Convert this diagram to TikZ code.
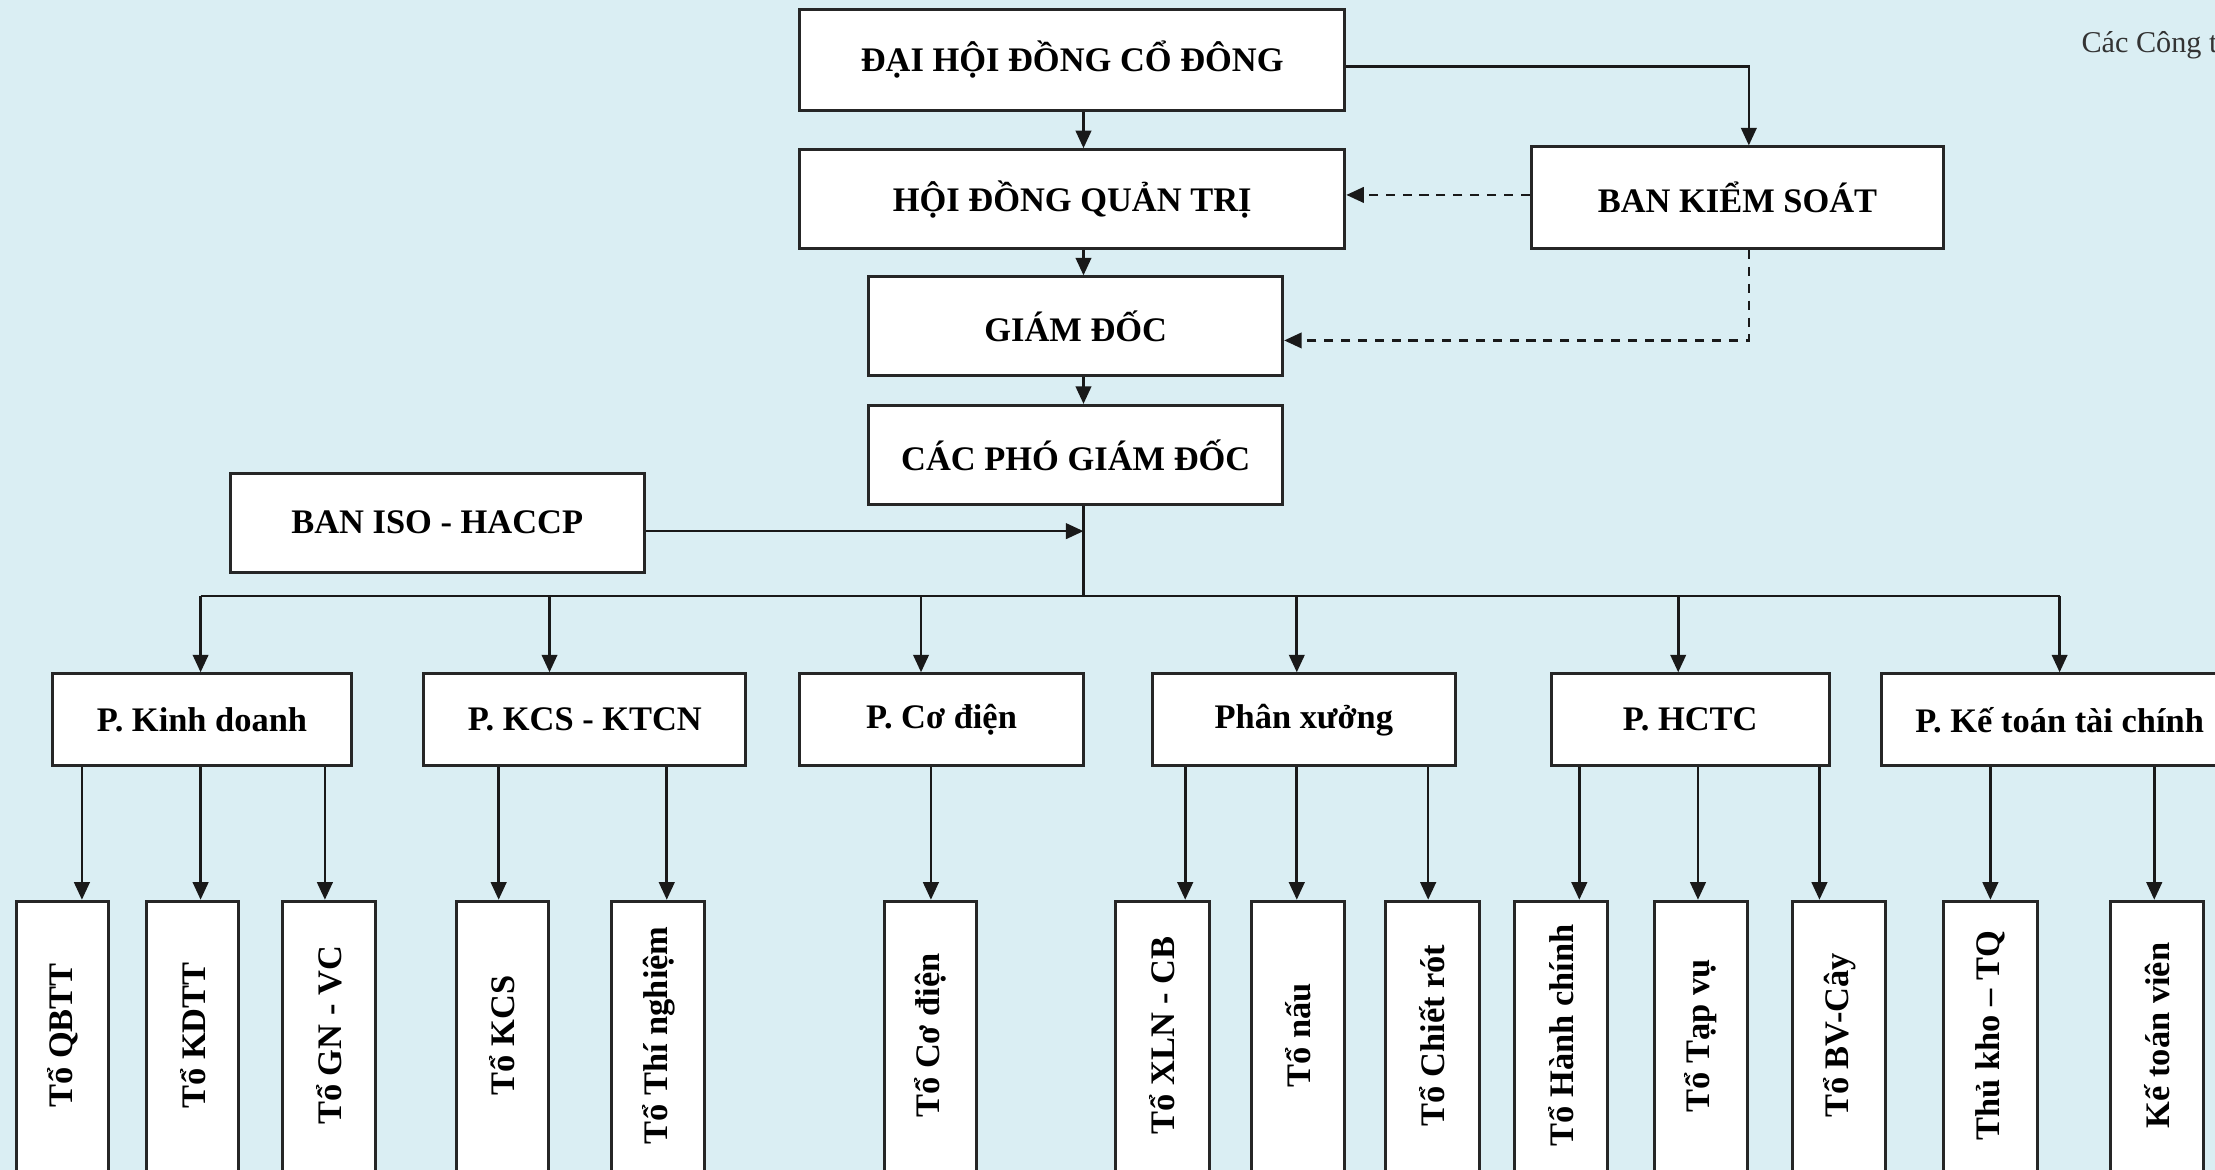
\documentclass[tikz,border=0pt]{standalone}
\usepackage{fontspec}
\setmainfont{Liberation Serif}
\usetikzlibrary{arrows.meta}
\definecolor{bgblue}{HTML}{DAEEF3}
\newcommand{\U}{0.014126cm}
\newcommand{\bx}[6]{\node[box, minimum width={(#4-#2)*\U}, minimum height={(#5-#3)*\U}] (#1) at ({(#2+#4)/2},{(#3+#5)/2}) {#6};}
\begin{document}
\begin{tikzpicture}[x=0.014126cm,y=-0.014126cm,
 box/.style={draw=black!85, line width=0.85pt, fill=white, inner sep=0pt, font=\bfseries\fontsize{9.8}{12}\selectfont},
 vtext/.style={rotate=90, inner sep=0pt, font=\bfseries\fontsize{9.8}{12}\selectfont},
 arr/.style={line width=0.75pt, draw=black!90, -{Triangle[length=5pt,width=4.4pt]}},
 dsh/.style={arr, dash pattern=on 2.6pt off 2.2pt},
 ln/.style={line width=0.75pt, draw=black!90},
]
\fill[bgblue] (0,0) rectangle (1568,828);
\useasboundingbox (0,0) rectangle (1568,828);

% top level boxes
\bx{dh}{566}{7}{952}{78}{ĐẠI HỘI ĐỒNG CỔ ĐÔNG}
\bx{hd}{566}{106}{952}{176}{HỘI ĐỒNG QUẢN TRỊ}
\bx{bks}{1084}{104}{1376}{176}{BAN KIỂM SOÁT}
\bx{gd}{615}{196}{908}{266}{GIÁM ĐỐC}
\bx{pgd}{615}{287}{908}{357}{CÁC PHÓ GIÁM ĐỐC}
\bx{iso}{163}{335}{456}{405}{BAN ISO - HACCP}

\node[anchor=base west, inner sep=0pt, text=black!80, font=\fontsize{8.6}{10}\selectfont] (note) at (1473,37) {Các Công t};

% helper coordinates
\coordinate (sp) at (767,0);
\coordinate (bk) at (1238,0);
\coordinate (dhy) at (0,47);
\coordinate (hdy) at (0,138);
\coordinate (gdy) at (0,241);
\coordinate (isoy) at (0,376);
\coordinate (bus) at (767,422);

\draw[arr] (dh.south -| sp) -- (hd.north -| sp);
\draw[arr] (hd.south -| sp) -- (gd.north -| sp);
\draw[arr] (gd.south -| sp) -- (pgd.north -| sp);
\draw[arr] (dh.east |- dhy) -| (bks.north -| bk);
\draw[dsh] (bks.west |- hdy) -- (hd.east |- hdy);
\draw[dsh] (bks.south -| bk) |- (gd.east |- gdy);
\draw[ln] (pgd.south -| sp) -- (bus);
\draw[arr] (iso.east |- isoy) -- (sp |- isoy);

% departments
\bx{kd}{37}{477}{249}{542}{P. Kinh doanh}
\bx{kcs}{300}{477}{528}{542}{P. KCS - KTCN}
\bx{cd}{566}{477}{767}{542}{P. Cơ điện}
\bx{px}{816}{477}{1030}{542}{Phân xưởng}
\bx{hc}{1098}{477}{1295}{542}{P. HCTC}
\bx{kt}{1332}{477}{1584}{542}{P. Kế toán tài chính}

\coordinate (b1) at (142,422);
\coordinate (b2) at (389,422);
\coordinate (b3) at (652,422);
\coordinate (b4) at (918,422);
\coordinate (b5) at (1188,422);
\coordinate (b6) at (1458,422);
\draw[ln] (b1) -- (b6);
\draw[arr] (b1) -- (kd.north -| b1);
\draw[arr] (b2) -- (kcs.north -| b2);
\draw[arr] (b3) -- (cd.north -| b3);
\draw[arr] (b4) -- (px.north -| b4);
\draw[arr] (b5) -- (hc.north -| b5);
\draw[arr] (b6) -- (kt.north -| b6);

% sub boxes
\foreach \n/\xa/\xb/\ax/\p/\t in {
 s1/12/77/58/kd/{Tổ QBTT},
 s2/104/169/142/kd/{Tổ KDTT},
 s3/200/266/230/kd/{Tổ GN - VC},
 s4/323/388/353/kcs/{Tổ KCS},
 s5/433/499/472/kcs/{Tổ Thí nghiệm},
 s6/626/691/659/cd/{Tổ Cơ điện},
 s7/790/856/839/px/{Tổ XLN - CB},
 s8/886/952/918/px/{Tổ nấu},
 s9/981/1047/1011/px/{Tổ Chiết rót},
 s10/1072/1138/1118/hc/{Tổ Hành chính},
 s11/1171/1237/1202/hc/{Tổ Tạp vụ},
 s12/1269/1335/1288/hc/{Tổ BV-Cây},
 s13/1376/1442/1409/kt/{Thủ kho – TQ},
 s14/1494/1560/1525/kt/{Kế toán viên}}{
  \node[box, minimum width={(\xb-\xa)*\U}, minimum height={(860-638)*\U}] (\n) at ({(\xa+\xb)/2},749) {};
  \node[vtext] (\n t) at ({(\xa+\xb)/2},733) {\t};
  \coordinate (\n a) at (\ax,0);
  \draw[arr] (\p.south -| \n a) -- (\n.north -| \n a);
}
\end{tikzpicture}
\end{document}
